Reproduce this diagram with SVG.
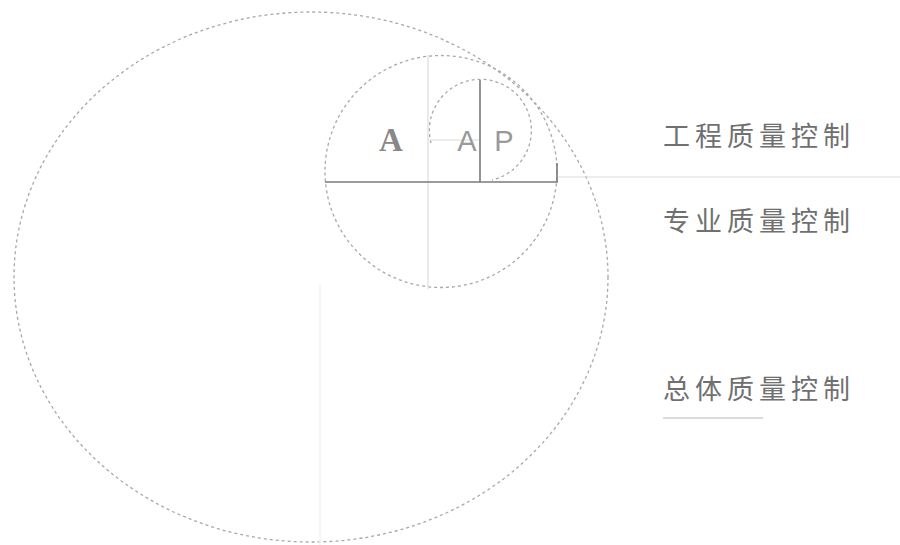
<svg xmlns="http://www.w3.org/2000/svg" width="900" height="545" viewBox="0 0 900 545">
<style>
.dash{fill:none;stroke:#a8a8a8;stroke-width:1.3;stroke-dasharray:3 3}
.dark{stroke:#7a7a7a;stroke-width:1.6;fill:none}
.light{stroke:#dcdcdc;stroke-width:1.2;fill:none}
.faint{stroke:#f2f2f2;stroke-width:1.5;fill:none}
.cn{font-family:"Noto Sans CJK SC","Noto Sans CJK TC",sans-serif;font-size:27px;fill:#707070;letter-spacing:5px}
</style>
<rect width="900" height="545" fill="#ffffff"/>
<g id="overall">
<ellipse class="dash" cx="311" cy="277" rx="297" ry="265"/>
</g>
<g id="professional">
<circle class="dash" cx="441" cy="171.5" r="116"/>
</g>
<g id="engineering">
<path class="dash" d="M431,143 A51,51 0 1 1 492,180"/>
</g>
<g id="connectors">
<line class="faint" x1="320" y1="285" x2="320" y2="545"/>
<line class="light" x1="428" y1="55" x2="428" y2="289"/>
<line class="light" x1="430" y1="140" x2="480" y2="140"/>
<line class="light" x1="557" y1="177" x2="900" y2="177"/>
<line class="dark" x1="325" y1="182" x2="558" y2="182"/>
<line class="dark" x1="480" y1="80" x2="480" y2="182"/>
<line class="dark" x1="557" y1="163" x2="557" y2="182"/>
<line x1="663" y1="418" x2="763" y2="418" stroke="#cfcfcf" stroke-width="1.5"/>
</g>
<g id="letters">
<text x="391" y="151" text-anchor="middle" font-family="Liberation Serif, serif" font-weight="bold" font-size="33" fill="#888">A</text>
<text x="467" y="151" text-anchor="middle" font-family="Liberation Sans, sans-serif" font-size="29" fill="#999">A</text>
<text x="504" y="151" text-anchor="middle" font-family="Liberation Sans, sans-serif" font-size="29" fill="#999">P</text>
</g>
<g id="labels">
<text class="cn" x="663" y="146">工程质量控制</text>
<text class="cn" x="663" y="231">专业质量控制</text>
<text class="cn" x="663" y="399">总体质量控制</text>
</g>
</svg>
